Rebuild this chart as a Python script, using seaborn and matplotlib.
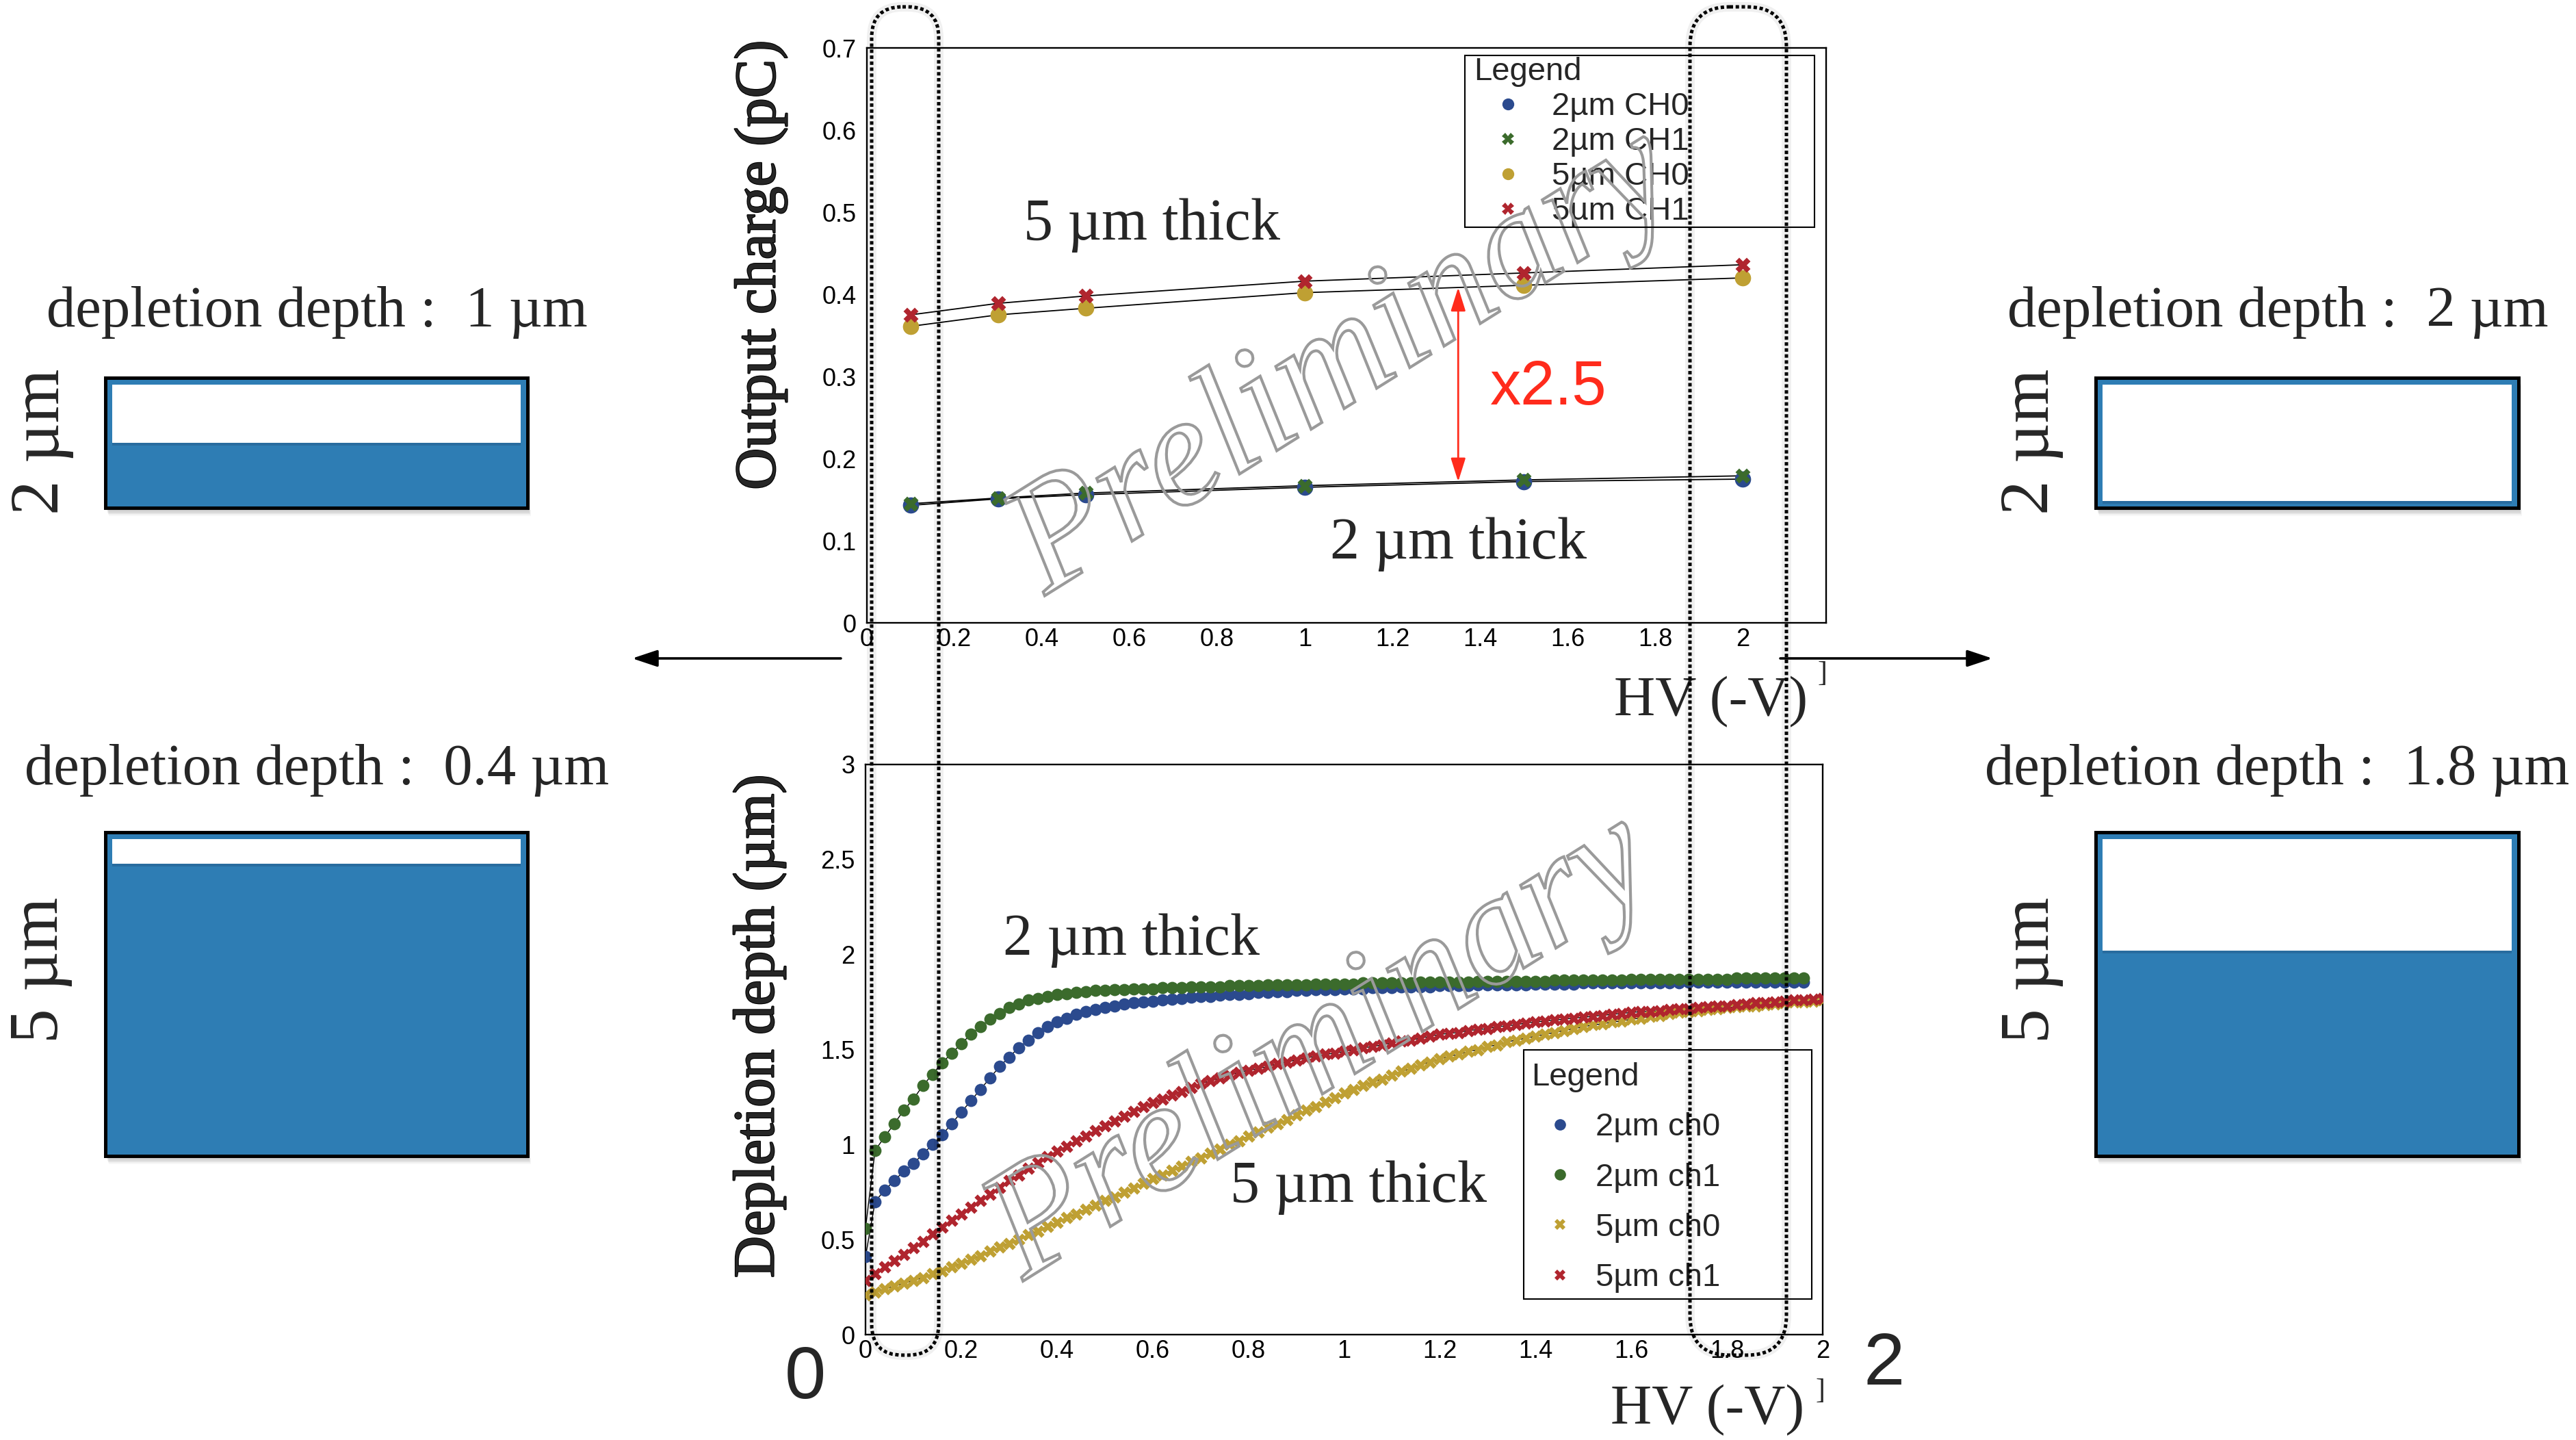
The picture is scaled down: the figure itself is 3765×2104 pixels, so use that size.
import numpy as np
import matplotlib
matplotlib.use("Agg")
import matplotlib.pyplot as plt
import seaborn as sns
from matplotlib.patches import Rectangle, FancyBboxPatch
from matplotlib.lines import Line2D
from matplotlib.ticker import MultipleLocator, FuncFormatter
import matplotlib.patheffects as pe

# ---------------------------------------------------------------- data
# Output charge (pC) versus bias voltage HV (-V)
hv_charge = [0.1, 0.3, 0.5, 1.0, 1.5, 2.0]
charge_2um_ch0 = [0.143, 0.151, 0.156, 0.165, 0.172, 0.175]
charge_2um_ch1 = [0.145, 0.152, 0.158, 0.167, 0.174, 0.179]
charge_5um_ch0 = [0.361, 0.375, 0.383, 0.402, 0.411, 0.420]
charge_5um_ch1 = [0.375, 0.389, 0.398, 0.416, 0.426, 0.436]
charge_labels = ["2\u00b5m CH0", "2\u00b5m CH1", "5\u00b5m CH0", "5\u00b5m CH1"]

# Depletion depth (um) versus HV, scanned in 0.02 V steps
hv_step = 0.02
hv_scan = np.round(np.arange(101) * hv_step, 2)
depth_2um_ch0 = [
    0.41, 0.70, 0.76, 0.81, 0.86, 0.90, 0.95, 1.00, 1.05, 1.11,
    1.17, 1.23, 1.29, 1.35, 1.41, 1.46, 1.51, 1.55, 1.59, 1.62,
    1.645, 1.665, 1.685, 1.70, 1.71, 1.72, 1.73, 1.74, 1.745, 1.75,
    1.755, 1.76, 1.765, 1.77, 1.775, 1.78, 1.78, 1.785, 1.79, 1.79,
    1.795, 1.80, 1.80, 1.805, 1.805, 1.81, 1.81, 1.815, 1.815, 1.815,
    1.82, 1.82, 1.82, 1.825, 1.825, 1.825, 1.83, 1.83, 1.83, 1.83,
    1.835, 1.835, 1.835, 1.835, 1.84, 1.84, 1.84, 1.84, 1.84, 1.84,
    1.845, 1.845, 1.845, 1.845, 1.845, 1.85, 1.85, 1.85, 1.85, 1.85,
    1.85, 1.85, 1.85, 1.85, 1.85, 1.85, 1.855, 1.855, 1.855, 1.855,
    1.855, 1.855, 1.855, 1.855, 1.855, 1.855, 1.855, 1.855, 1.855]
depth_2um_ch1 = [
    0.56, 0.97, 1.04, 1.11, 1.18, 1.24, 1.31, 1.37, 1.43, 1.48,
    1.53, 1.58, 1.62, 1.66, 1.69, 1.72, 1.74, 1.76, 1.77, 1.78,
    1.79, 1.795, 1.80, 1.805, 1.81, 1.81, 1.815, 1.815, 1.82, 1.82,
    1.82, 1.825, 1.825, 1.825, 1.83, 1.83, 1.83, 1.83, 1.835, 1.835,
    1.835, 1.835, 1.84, 1.84, 1.84, 1.84, 1.84, 1.845, 1.845, 1.845,
    1.845, 1.845, 1.85, 1.85, 1.85, 1.85, 1.85, 1.85, 1.855, 1.855,
    1.855, 1.855, 1.855, 1.855, 1.86, 1.86, 1.86, 1.86, 1.86, 1.86,
    1.86, 1.86, 1.865, 1.865, 1.865, 1.865, 1.865, 1.865, 1.865, 1.865,
    1.87, 1.87, 1.87, 1.87, 1.87, 1.87, 1.87, 1.87, 1.87, 1.87,
    1.87, 1.875, 1.875, 1.875, 1.875, 1.875, 1.875, 1.875, 1.875]
depth_5um_ch0 = [
    0.21, 0.225, 0.24, 0.255, 0.27, 0.285, 0.30, 0.32, 0.335, 0.355,
    0.375, 0.395, 0.415, 0.44, 0.46, 0.48, 0.50, 0.525, 0.545, 0.57,
    0.59, 0.615, 0.635, 0.66, 0.68, 0.705, 0.725, 0.75, 0.77, 0.795,
    0.82, 0.84, 0.865, 0.885, 0.91, 0.93, 0.955, 0.975, 1.00, 1.02,
    1.045, 1.065, 1.09, 1.11, 1.13, 1.155, 1.18, 1.20, 1.225, 1.245,
    1.27, 1.29, 1.31, 1.33, 1.345, 1.365, 1.385, 1.40, 1.42, 1.435,
    1.45, 1.465, 1.475, 1.49, 1.50, 1.515, 1.525, 1.54, 1.55, 1.56,
    1.57, 1.58, 1.59, 1.60, 1.61, 1.62, 1.63, 1.635, 1.645, 1.65,
    1.66, 1.665, 1.675, 1.68, 1.69, 1.695, 1.70, 1.705, 1.71, 1.715,
    1.72, 1.725, 1.73, 1.73, 1.735, 1.74, 1.745, 1.75, 1.75, 1.755,
    1.76]
depth_5um_ch1 = [
    0.284, 0.32, 0.355, 0.39, 0.42, 0.457, 0.49, 0.53, 0.565, 0.60,
    0.634, 0.67, 0.705, 0.74, 0.775, 0.81, 0.84, 0.875, 0.905, 0.935,
    0.965, 0.99, 1.02, 1.045, 1.075, 1.10, 1.125, 1.15, 1.175, 1.20,
    1.22, 1.24, 1.26, 1.28, 1.30, 1.32, 1.335, 1.35, 1.365, 1.38,
    1.39, 1.40, 1.41, 1.425, 1.435, 1.445, 1.455, 1.465, 1.475, 1.48,
    1.49, 1.50, 1.51, 1.515, 1.525, 1.535, 1.545, 1.55, 1.56, 1.57,
    1.58, 1.585, 1.59, 1.60, 1.605, 1.61, 1.62, 1.625, 1.63, 1.64,
    1.645, 1.65, 1.655, 1.66, 1.665, 1.67, 1.675, 1.68, 1.685, 1.69,
    1.695, 1.70, 1.70, 1.705, 1.71, 1.715, 1.715, 1.72, 1.725, 1.73,
    1.73, 1.735, 1.74, 1.745, 1.745, 1.75, 1.755, 1.76, 1.76, 1.765,
    1.77]
depth_labels = ["2\u00b5m ch0", "2\u00b5m ch1", "5\u00b5m ch0", "5\u00b5m ch1"]

# Sensor sketches: thickness and depletion depth (um) at 0 V and 2 V
cell_thickness = [2, 5, 2, 5]
cell_depth = [1, 0.4, 2, 1.8]

# ---------------------------------------------------------------- style
W, H, DPI = 3765, 2104, 100
sns.set_theme(style="white")
plt.rcParams["font.family"] = ["Liberation Sans", "DejaVu Sans"]
plt.rcParams["axes.edgecolor"] = "black"
plt.rcParams["axes.linewidth"] = 1.6
SERIF = ["Liberation Serif", "DejaVu Serif"]
SANS = ["Liberation Sans", "DejaVu Sans"]

C_BLUE = "#2B4A8E"
C_GREEN = "#3B6B2C"
C_GOLD = "#BFA033"
C_RED = "#B0252E"
C_ARROW = "#FF2B1C"
C_CELL = "#2E7DB4"

fig = plt.figure(figsize=(W / DPI, H / DPI), dpi=DPI)
fig.patch.set_facecolor("white")


def px_axes(left, top, right, bottom):
    return fig.add_axes([left / W, 1 - bottom / H, (right - left) / W, (bottom - top) / H])


def style_frame(ax, xmax, ymax, xmaj, xmin, ymaj, ymin):
    ax.set_xlim(0, xmax)
    ax.set_ylim(0, ymax)
    ax.xaxis.set_major_locator(MultipleLocator(xmaj))
    ax.xaxis.set_minor_locator(MultipleLocator(xmin))
    ax.yaxis.set_major_locator(MultipleLocator(ymaj))
    ax.yaxis.set_minor_locator(MultipleLocator(ymin))
    fmt = FuncFormatter(lambda v, p: "%g" % round(v, 3))
    ax.xaxis.set_major_formatter(fmt)
    ax.yaxis.set_major_formatter(fmt)
    ax.tick_params(which="both", direction="in", top=False, right=False,
                   width=1.5, color="black", labelsize=26, labelcolor="black")
    ax.tick_params(axis="y", which="major", length=29, pad=11)
    ax.tick_params(axis="y", which="minor", length=14.5)
    ax.tick_params(axis="x", which="major", length=18, pad=5)
    ax.tick_params(axis="x", which="minor", length=9)
    for s in ax.spines.values():
        s.set_color("black")
        s.set_linewidth(1.7)
    ax.grid(False)
    ax.set_facecolor("none")


def watermark(ax, x, y):
    ax.text(x, y, "Preliminary", fontsize=165, family=SERIF, style="italic",
            rotation=32, rotation_mode="anchor", ha="center", va="center",
            zorder=10,
            path_effects=[pe.PathPatchEffect(edgecolor="#9a9a9a", facecolor="none",
                                             linewidth=3.0)])


def axis_titles(ax, ytitle, ycoords, xcoords):
    ax.set_ylabel(ytitle, family=SERIF, fontsize=61, va="center", ha="center",
                  path_effects=[pe.withStroke(linewidth=1.6, foreground="black")])
    ax.yaxis.set_label_coords(*ycoords)
    ax.set_xlabel("HV (-V)", family=SERIF, fontsize=60, ha="right", va="baseline")
    ax.xaxis.set_label_coords(*xcoords)


# ---------------------------------------------------------------- top: output charge
ax1 = px_axes(1267, 70, 2669, 910)
charge_series = [
    (charge_2um_ch0, C_BLUE, "o", 290),
    (charge_2um_ch1, C_GREEN, "X", 250),
    (charge_5um_ch0, C_GOLD, "o", 290),
    (charge_5um_ch1, C_RED, "X", 250),
]
for vals, col, mk, sz in charge_series:
    sns.lineplot(x=hv_charge, y=vals, color="black", linewidth=1.3, ax=ax1,
                 legend=False, errorbar=None, zorder=2)
    sns.scatterplot(x=hv_charge, y=vals, color=col, marker=mk, s=sz, linewidth=0,
                    ax=ax1, legend=False, zorder=3)
style_frame(ax1, 2.19, 0.7, 0.2, 0.05, 0.1, 0.02)
axis_titles(ax1, "Output charge (pC)",
            ((1112 - 1267) / 1402, (910 - 387) / 840),
            ((2642 - 1267) / 1402, (910 - 1045) / 840))

ax1.text(0.65, 0.467, "5 \u00b5m thick", family=SERIF, fontsize=62, ha="center", va="baseline")
ax1.text(1.35, 0.078, "2 \u00b5m thick", family=SERIF, fontsize=62, ha="center", va="baseline")

# ratio arrow between the two thicknesses
x_ratio = 1.35
y_low = np.interp(x_ratio, hv_charge, charge_2um_ch1)
y_high = np.interp(x_ratio, hv_charge, charge_5um_ch0)
ax1.annotate("", xy=(x_ratio, y_high), xytext=(x_ratio, y_low),
             arrowprops=dict(arrowstyle="<|-|>,head_length=0.7,head_width=0.22",
                             color=C_ARROW, lw=2.0, mutation_scale=30,
                             shrinkA=0, shrinkB=0), zorder=4)
ax1.text(1.423, 0.266, "x2.5", family=SANS, fontsize=65, color=C_ARROW,
         ha="left", va="baseline", zorder=4)
watermark(ax1, 1.09, 0.315)

h1 = [Line2D([], [], ls="none", marker=mk, color=col, markersize=12.5, markeredgewidth=0)
      for _, col, mk, _ in charge_series]
ax1.legend(handles=h1, labels=charge_labels, loc="upper left",
           bbox_to_anchor=(2154 / W, 1 - 83 / H), bbox_transform=fig.transFigure,
           frameon=False, fontsize=34, title="Legend", title_fontsize=34,
           alignment="left", borderpad=0, borderaxespad=0, handlelength=2.12,
           handletextpad=0.3, labelspacing=0.15)

# ---------------------------------------------------------------- bottom: depletion depth
ax2 = px_axes(1265, 1117, 2664, 1950)
depth_series = [
    (hv_scan[:len(depth_2um_ch0)], depth_2um_ch0, C_BLUE, "o", 165),
    (hv_scan[:len(depth_2um_ch1)], depth_2um_ch1, C_GREEN, "o", 165),
    (hv_scan[:len(depth_5um_ch0)], depth_5um_ch0, C_GOLD, "X", 175),
    (hv_scan[:len(depth_5um_ch1)], depth_5um_ch1, C_RED, "X", 175),
]
for xs, vals, col, mk, sz in depth_series:
    sns.lineplot(x=xs, y=vals, color="black", linewidth=1.0, ax=ax2,
                 legend=False, errorbar=None, zorder=2)
    sns.scatterplot(x=xs, y=vals, color=col, marker=mk, s=sz, linewidth=0,
                    ax=ax2, legend=False, zorder=3)
style_frame(ax2, 2.0, 3.0, 0.2, 0.05, 0.5, 0.1)
axis_titles(ax2, "Depletion depth (\u00b5m)",
            ((1110 - 1265) / 1399, (1950 - 1499) / 833),
            ((2637 - 1265) / 1399, (1950 - 2080) / 833))
ax2.text(0.555, 2.0, "2 \u00b5m thick", family=SERIF, fontsize=62, ha="center", va="baseline")
ax2.text(1.03, 0.70, "5 \u00b5m thick", family=SERIF, fontsize=62, ha="center", va="baseline")
watermark(ax2, 0.955, 1.50)

h2 = [Line2D([], [], ls="none", marker=mk, color=col, markersize=12, markeredgewidth=0)
      for _, _, col, mk, _ in depth_series]
ax2.legend(handles=h2, labels=depth_labels, loc="upper left",
           bbox_to_anchor=(2238 / W, 1 - 1552 / H), bbox_transform=fig.transFigure,
           frameon=False, fontsize=34, title="Legend", title_fontsize=34,
           alignment="left", borderpad=0, borderaxespad=0, handlelength=1.78,
           handletextpad=0.21, labelspacing=0.62)

# ---------------------------------------------------------------- overlay in pixel units
ov = fig.add_axes([0, 0, 1, 1], zorder=20)
ov.set_xlim(0, W)
ov.set_ylim(H, 0)
ov.axis("off")
ov.patch.set_alpha(0)

# legend frames
ov.add_patch(Rectangle((2141, 81), 511, 251, fill=False, ec="black", lw=1.5))
ov.add_patch(Rectangle((2227, 1534), 421, 364, fill=False, ec="black", lw=1.5))

# dotted loops marking the 0 V and 2 V regions
for x0, x1, r in [(1274, 1372, 45), (2470, 2611, 58)]:
    for lw, alpha, ls in [(10, 0.06, "-"), (3.6, 1.0, (0, (1, 0.75)))]:
        ov.add_patch(FancyBboxPatch((x0, 10), x1 - x0, 1980 - 10,
                                    boxstyle=f"round,pad=0,rounding_size={r}",
                                    fill=False, ec="black", lw=lw, alpha=alpha,
                                    linestyle=ls))

# arrows to the sketches
for start, tip in [((1229, 962), (924, 962)), ((2602, 962), (2912, 962))]:
    ov.annotate("", xy=tip, xytext=start,
                arrowprops=dict(arrowstyle="-|>,head_length=0.75,head_width=0.25",
                                color="black", lw=2.6, mutation_scale=30,
                                shrinkA=0, shrinkB=0))

# axis-end markers
ov.text(2663, 985, "]", family=SERIF, fontsize=30, ha="center", va="center")
ov.text(2660, 2033, "]", family=SERIF, fontsize=30, ha="center", va="center")
ov.text(1177, 2043, "0", family=SANS, fontsize=78, ha="center", va="baseline")
ov.text(2754, 2023, "2", family=SANS, fontsize=78, ha="center", va="baseline")

# sensor sketches
cell_boxes = [(154, 552, 771, 742), (154, 1216, 771, 1689),
              (3063, 552, 3681, 742), (3063, 1216, 3681, 1689)]
cell_text_xy = [(463, 477), (463, 1146), (3329, 477), (3328, 1146)]
cell_side_xy = [(62, 645), (60, 1417), (2970, 645), (2970, 1417)]
for (l, t, r, b), (tx, ty), (sx, sy), thick, depth in zip(
        cell_boxes, cell_text_xy, cell_side_xy, cell_thickness, cell_depth):
    w, h = r - l, b - t
    for k in range(1, 10):
        ov.add_patch(Rectangle((l + 0.5 * k, t + 1.3 * k), w, h, fc="black",
                               alpha=0.03, lw=0))
    ov.add_patch(Rectangle((l, t), w, h, fc=C_CELL, ec="none"))
    inset = 10
    inner_h = h - 2 * inset
    white_h = inner_h * depth / thick
    ov.add_patch(Rectangle((l + inset, t + inset + white_h), w - 2 * inset, 4,
                           fc="#1d4f78", alpha=0.35, lw=0))
    ov.add_patch(Rectangle((l + inset, t + inset), w - 2 * inset, white_h,
                           fc="white", lw=0))
    ov.add_patch(Rectangle((l, t), w, h, fill=False, ec="black", lw=3.6))
    ov.text(tx, ty, "depletion depth :  %g \u00b5m" % depth, family=SERIF,
            fontsize=61, ha="center", va="baseline")
    ov.text(sx, sy, "%g \u00b5m" % thick, family=SERIF, fontsize=73,
            rotation=90, ha="center", va="center")

fig.savefig("out.png", dpi=DPI, facecolor="white")
